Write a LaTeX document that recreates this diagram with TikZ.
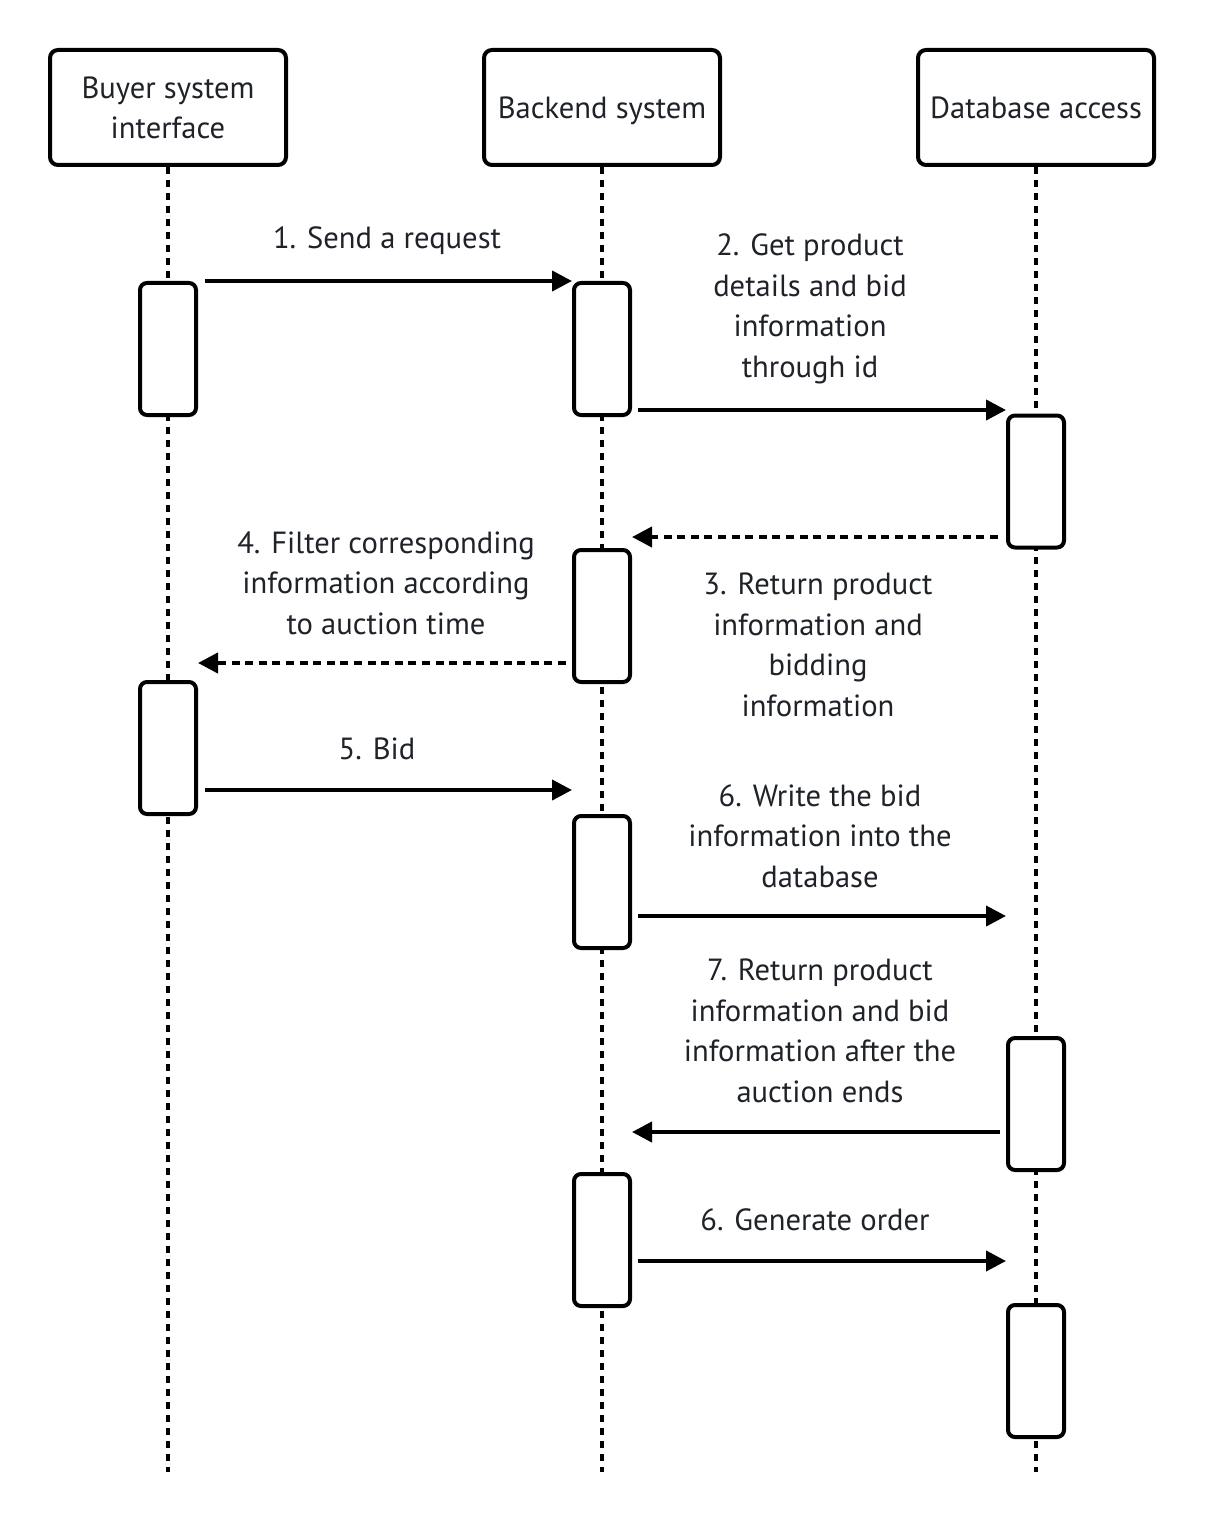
\documentclass[tikz,border=0pt]{standalone}
\usepackage{fontspec}
\setmainfont{PT Sans}
\usetikzlibrary{arrows.meta}
\definecolor{inkgray}{HTML}{1F2329}
\begin{document}
\begin{tikzpicture}[x=0.5pt,y=-0.5pt,
        font=\fontsize{15.3}{20.25}\selectfont,
        head/.style={draw=black,line width=2pt,rounded corners=4pt,fill=white,
            minimum width=118pt,minimum height=57.5pt,text=inkgray,align=center,
            text depth=0pt},
        act/.style={draw=black,line width=2pt,rounded corners=3.5pt,fill=white,
            minimum width=28pt,minimum height=66pt},
        lifeline/.style={line width=2pt,dash pattern=on 3.5pt off 3pt},
        msg/.style={line width=2pt,-{Triangle[length=10pt,width=10pt]}},
        reply/.style={msg,dash pattern=on 4pt off 2.8pt},
        lbl/.style={text=inkgray,align=center}]
        \useasboundingbox (0,0) rectangle (1204,1524);

        % lifelines
        \node[head] (buyer) at (168,107.5) {Buyer system\\interface};
        \node[head] (backend) at (602,107.5) {Backend system};
        \node[head] (db) at (1036,107.5) {Database access};

        \coordinate (buyerEnd) at (168,1472);
        \coordinate (backendEnd) at (602,1472);
        \coordinate (dbEnd) at (1036,1472);

        \draw[lifeline] (buyer.south) -- (buyerEnd);
        \draw[lifeline] (backend.south) -- (backendEnd);
        \draw[lifeline] (db.south) -- (dbEnd);

        % activations
        \node[act] (buyerA) at (168,349) {};
        \node[act] (buyerB) at (168,748) {};

        \node[act] (backendA) at (602,349) {};
        \node[act] (backendB) at (602,616) {};
        \node[act] (backendC) at (602,882) {};
        \node[act] (backendD) at (602,1240) {};

        \node[act] (dbA) at (1036,481.5) {};
        \node[act] (dbB) at (1036,1104) {};
        \node[act] (dbC) at (1036,1371) {};

        % messages
        \coordinate (m1s) at (205,281);  \coordinate (m1e) at (572,281);
        \coordinate (m2s) at (638,410);  \coordinate (m2e) at (1006,410);
        \coordinate (m3s) at (998,537);  \coordinate (m3e) at (632,537);
        \coordinate (m4s) at (566,663);  \coordinate (m4e) at (198,663);
        \coordinate (m5s) at (205,790);  \coordinate (m5e) at (572,790);
        \coordinate (m6s) at (638,916);  \coordinate (m6e) at (1006,916);
        \coordinate (m7s) at (1000,1132); \coordinate (m7e) at (632,1132);
        \coordinate (m8s) at (638,1261); \coordinate (m8e) at (1006,1261);

        \draw[msg] (m1s) -- (m1e);
        \draw[msg] (m2s) -- (m2e);
        \draw[reply] (m3s) -- (m3e);
        \draw[reply] (m4s) -- (m4e);
        \draw[msg] (m5s) -- (m5e);
        \draw[msg] (m6s) -- (m6e);
        \draw[msg] (m7s) -- (m7e);
        \draw[msg] (m8s) -- (m8e);

        % labels
        \node[lbl] (l1) at (387,241) {1. Send a request};
        \node[lbl] (l2) at (810,309) {2. Get product\\details and bid\\information\\through id};
        \node[lbl] (l3) at (818,645) {3. Return product\\information and\\bidding\\information};
        \node[lbl] (l4) at (386,583) {4. Filter corresponding\\information according\\to auction time};
        \node[lbl] (l5) at (377,749) {5. Bid};
        \node[lbl] (l6) at (820,836) {6. Write the bid\\information into the\\database};
        \node[lbl] (l7) at (820,1031) {7. Return product\\information and bid\\information after the\\auction ends};
        \node[lbl] (l8) at (815,1220) {6. Generate order};
    \end{tikzpicture}
\end{document}
